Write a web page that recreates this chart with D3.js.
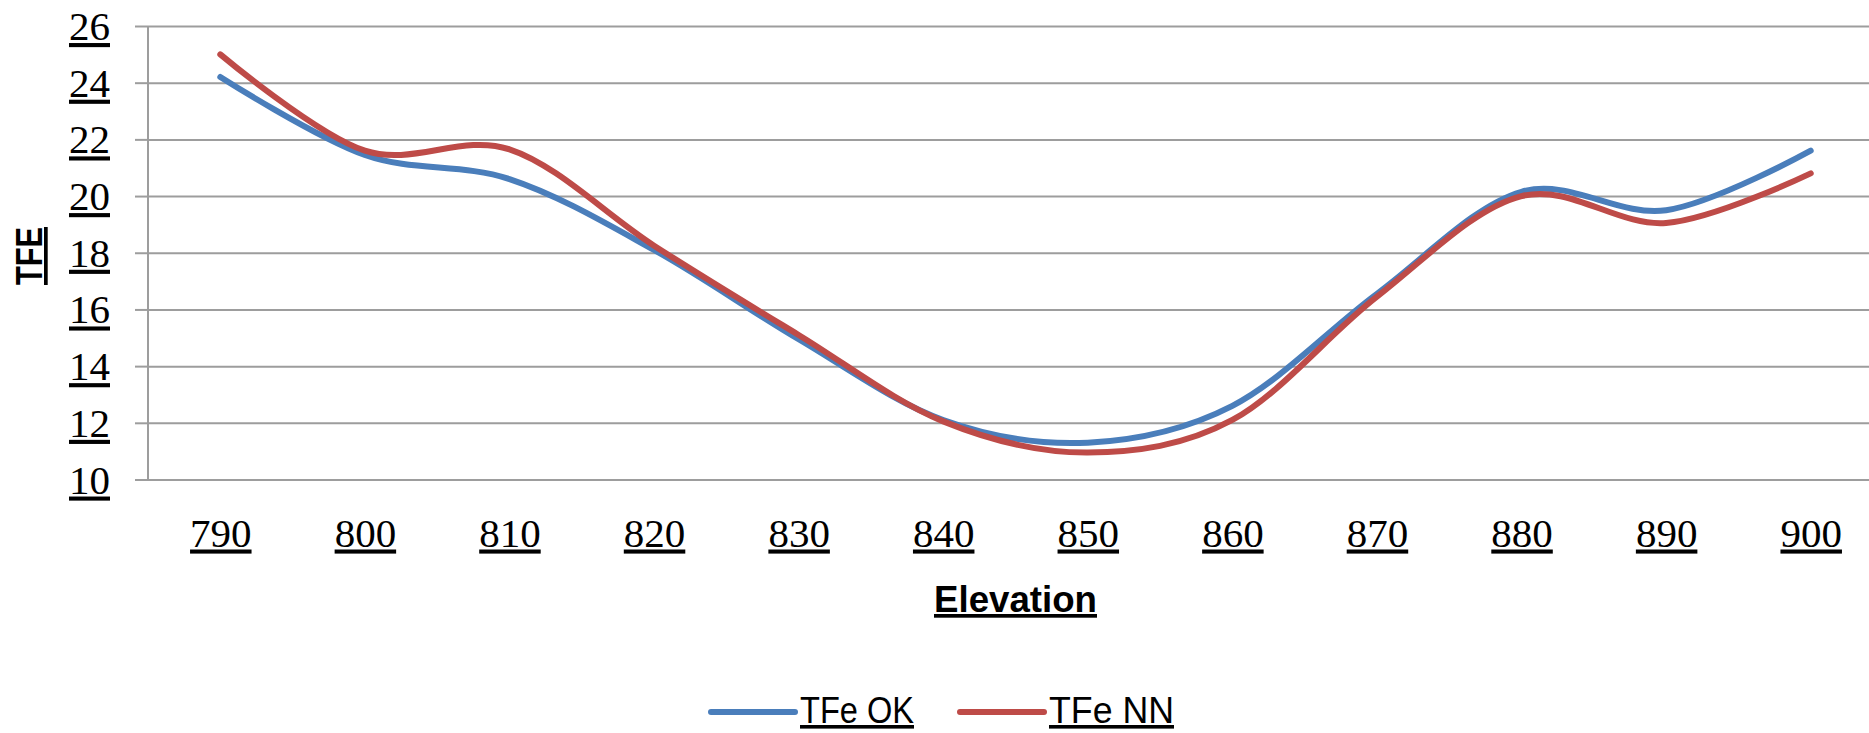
<!DOCTYPE html>
<html>
<head>
<meta charset="utf-8">
<script src="https://cdn.jsdelivr.net/npm/d3@7"></script>
<style>
  html, body { margin: 0; padding: 0; background: #fff; }
  svg { display: block; }
  .tick-label { font-family: "Liberation Serif", "Times New Roman", serif; font-size: 41px; fill: #000; text-decoration: underline; }
  .axis-title { font-family: "Liberation Sans", Arial, sans-serif; font-weight: bold; fill: #000; text-decoration: underline; }
  .legend-label { font-family: "Liberation Sans", Arial, sans-serif; fill: #000; text-decoration: underline; }
</style>
</head>
<body>
<svg id="chart" width="1869" height="733"></svg>
<script>
// Elevation categories along the x axis
const elevations = ["790", "800", "810", "820", "830", "840", "850", "860", "870", "880", "890", "900"];
// TFe values per elevation
const tfeOK = [24.2, 21.45, 20.6, 18.1, 14.95, 12.1, 11.3, 12.6, 16.55, 20.15, 19.5, 21.6];
const tfeNN = [25.0, 21.6, 21.65, 18.25, 15.1, 12.05, 10.95, 12.1, 16.45, 20.0, 19.05, 20.8];
const seriesNames = ["TFe OK", "TFe NN"];
const seriesColors = ["#4a7ebb", "#be4b48"];
const yTicks = [10, 12, 14, 16, 18, 20, 22, 24, 26];

const svg = d3.select("#chart");
const plot = { left: 148, right: 1883, top: 26, bottom: 479.5 };

const x = d3.scalePoint().domain(elevations).range([plot.left, plot.right]).padding(0.5);
const y = d3.scaleLinear().domain([10, 26]).range([plot.bottom, plot.top]);

const gridColor = "#9d9d9d";

// horizontal gridlines
const grid = svg.append("g")
  .attr("transform", `translate(${plot.left},0)`)
  .call(d3.axisLeft(y).tickValues(yTicks).tickSize(-(plot.right - plot.left)).tickFormat(""));
grid.select(".domain").remove();
grid.selectAll("line").attr("stroke", gridColor).attr("stroke-width", 2);

// value axis with underlined labels
const yAxis = svg.append("g")
  .attr("transform", `translate(${plot.left},0)`)
  .call(d3.axisLeft(y).tickValues(yTicks).tickSize(13).tickPadding(25).tickFormat(d3.format("d")));
yAxis.select(".domain").attr("stroke", gridColor).attr("stroke-width", 2).attr("d", `M0,${plot.top}V${plot.bottom}`);
yAxis.selectAll(".tick line").attr("stroke", gridColor).attr("stroke-width", 2);
yAxis.selectAll(".tick text").attr("class", "tick-label").attr("dy", "0.33em");

// category axis labels
const xAxis = svg.append("g")
  .attr("transform", `translate(0,${plot.bottom})`)
  .call(d3.axisBottom(x).tickSize(0).tickPadding(0));
xAxis.select(".domain").remove();
xAxis.selectAll(".tick text").attr("class", "tick-label").attr("dy", null).attr("y", 67);

// smoothed series lines
const line = d3.line()
  .x((d, i) => x(elevations[i]))
  .y(d => y(d))
  .curve(d3.curveCardinal.tension(0));

[tfeOK, tfeNN].forEach((vals, k) => {
  svg.append("path")
    .datum(vals)
    .attr("fill", "none")
    .attr("stroke", seriesColors[k])
    .attr("stroke-width", 6)
    .attr("stroke-linecap", "round")
    .attr("stroke-linejoin", "round")
    .attr("d", line);
});

// axis titles
svg.append("text")
  .attr("class", "axis-title")
  .attr("transform", "translate(42,256) rotate(-90)")
  .attr("text-anchor", "middle")
  .attr("font-size", 37)
  .attr("textLength", 58)
  .attr("lengthAdjust", "spacingAndGlyphs")
  .text("TFE");

svg.append("text")
  .attr("class", "axis-title")
  .attr("x", (plot.left + plot.right) / 2)
  .attr("y", 612)
  .attr("text-anchor", "middle")
  .attr("font-size", 37)
  .attr("textLength", 163)
  .attr("lengthAdjust", "spacingAndGlyphs")
  .text("Elevation");

// legend
const legendY = 712;
const legendItems = [
  { lineX: 711, textX: 800, textW: 114 },
  { lineX: 960, textX: 1049, textW: 125 }
];
seriesNames.forEach((name, k) => {
  const it = legendItems[k];
  svg.append("line")
    .attr("x1", it.lineX).attr("x2", it.lineX + 84)
    .attr("y1", legendY).attr("y2", legendY)
    .attr("stroke", seriesColors[k])
    .attr("stroke-width", 6)
    .attr("stroke-linecap", "round");
  svg.append("text")
    .attr("class", "legend-label")
    .attr("x", it.textX)
    .attr("y", 723)
    .attr("font-size", 36)
    .attr("textLength", it.textW)
    .attr("lengthAdjust", "spacingAndGlyphs")
    .text(name);
});
</script>
</body>
</html>
